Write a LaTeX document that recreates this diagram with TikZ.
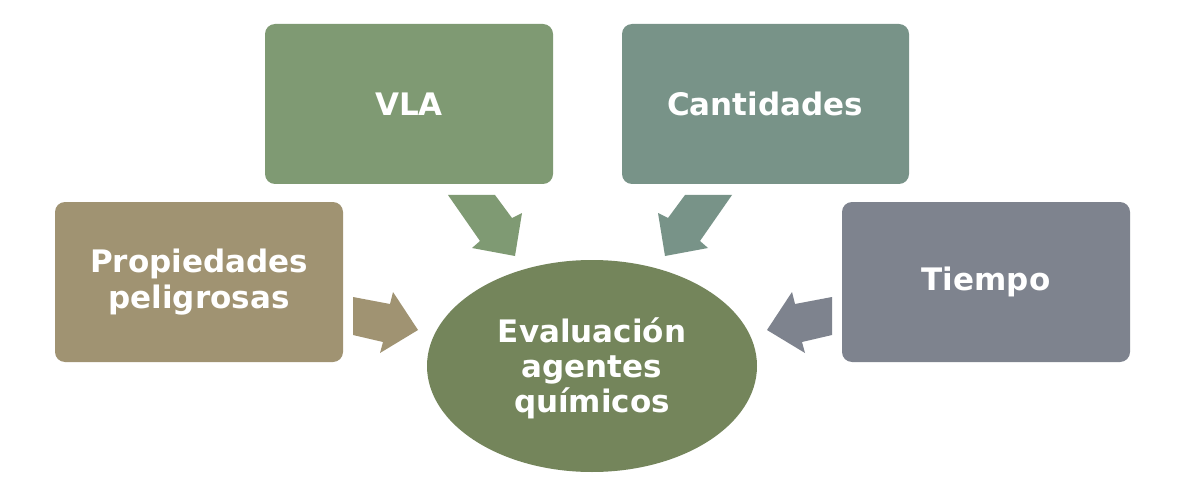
\documentclass[tikz,border=0pt]{standalone}
\usepackage{fontspec}
\setmainfont{DejaVu Sans}
\begin{document}
\begin{tikzpicture}[x=1pt,y=-1pt,
  box/.style={rounded corners=10pt, inner sep=0pt},
  lbl/.style={text=white, font=\bfseries\fontsize{31}{36.5}\selectfont, align=center},
  blk/.style={draw=none}]
\definecolor{cTan}{RGB}{160,147,114}
\definecolor{cVla}{RGB}{127,154,115}
\definecolor{cCan}{RGB}{120,147,136}
\definecolor{cTie}{RGB}{126,131,142}
\definecolor{cEll}{RGB}{116,133,91}
\useasboundingbox (0,0) rectangle (1200,492);
\fill[white] (0,0) rectangle (1200,492);
% boxes
\fill[box,cTan] (55,202) rectangle (343,362);
\fill[box,cVla] (265,24) rectangle (553,184);
\fill[box,cCan] (622,24) rectangle (909,184);
\fill[box,cTie] (842,202) rectangle (1130,362);
\node[lbl] (prop) at (199,282) {Propiedades\\peligrosas};
\node[lbl] (vla) at (409,104) {VLA};
\node[lbl] (cant) at (765,104) {Cantidades};
\node[lbl] (tiem) at (986,282) {Tiempo};
% ellipse
\fill[cEll] (592,366) ellipse [x radius=165, y radius=106];
\node[lbl, font=\bfseries\fontsize{31}{35}\selectfont] (eval) at (592,368) {Evaluación\\agentes\\químicos};
% block arrows
\fill[blk,cTan] (353,297) -- (390,304) -- (393,292) -- (418,330) -- (380,353) -- (383,342) -- (353,335) -- cycle;
\fill[blk,cTie] (832,297) -- (795,304) -- (792,292) -- (767,330) -- (805,353) -- (802,342) -- (832,335) -- cycle;
\fill[blk,cVla] (448,195) -- (495,195) -- (512,218) -- (522,213) -- (515,256) -- (472,248) -- (480,241) -- cycle;
\fill[blk,cCan] (732,195) -- (685,195) -- (668,218) -- (658,213) -- (665,256) -- (708,248) -- (700,241) -- cycle;
\end{tikzpicture}
\end{document}
